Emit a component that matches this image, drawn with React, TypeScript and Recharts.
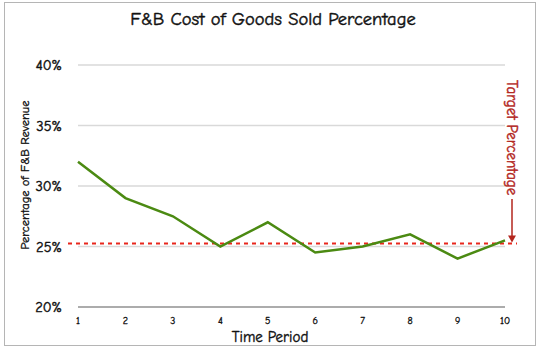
import { LineChart, Line, XAxis, YAxis, CartesianGrid, ReferenceLine, Label } from 'recharts';

const periods = [1, 2, 3, 4, 5, 6, 7, 8, 9, 10];
const cogsPct = [32, 29, 27.5, 25, 27, 24.5, 25, 26, 24, 25.5];
const yTicks = [20, 25, 30, 35, 40];
const TARGET = 25.25;

const FONT = '"Comic Sans MS", "Comic Neue", "DejaVu Sans", sans-serif';
const INK = '#111';

const data = periods.map((p, i) => ({ period: p, value: cogsPct[i] }));

interface LineShapeProps {
  x1?: number;
  x2?: number;
  y1?: number;
  y2?: number;
  viewBox?: { x: number; y: number; width: number; height: number };
}

function TargetLine(props: LineShapeProps) {
  const { x1 = 0, x2 = 0, y1 = 0, viewBox } = props;
  const top = viewBox ? viewBox.y : 65;
  const tx = x2 + 7;
  return (
    <g>
      <line
        x1={x1 - 10}
        x2={x2 + 12}
        y1={y1}
        y2={y1}
        stroke="#e8261c"
        strokeWidth={2}
        strokeDasharray="4 4"
      />
      <text
        x={tx}
        y={top + 15}
        transform={`rotate(90 ${tx} ${top + 15})`}
        fill="#b3261e"
        stroke="#b3261e"
        strokeWidth={0.45}
        fontSize={15}
        fontFamily={FONT}
        dominantBaseline="central"
      >
        Target Percentage
      </text>
      <line x1={tx} x2={tx} y1={top + 134} y2={y1 - 6} stroke="#b3261e" strokeWidth={1.5} />
      <path d={`M${tx - 4},${y1 - 8} L${tx + 4},${y1 - 8} L${tx},${y1 - 1} Z`} fill="#b3261e" />
    </g>
  );
}

function XTitle() {
  return (
    <text
      x={270}
      y={337}
      textAnchor="middle"
      dominantBaseline="central"
      fontSize={15}
      fill={INK}
      stroke={INK}
      strokeWidth={0.4}
      fontFamily={FONT}
    >
      Time Period
    </text>
  );
}

function YTitle() {
  return (
    <text
      x={25}
      y={175}
      transform="rotate(-90 25 175)"
      textAnchor="middle"
      dominantBaseline="central"
      fontSize={12.5}
      fill={INK}
      stroke={INK}
      strokeWidth={0.35}
      fontFamily={FONT}
    >
      Percentage of F&amp;B Revenue
    </text>
  );
}

export default function App() {
  return (
    <div style={{ position: 'absolute', left: 0, top: 0, width: 540, height: 350, background: '#fff' }}>
      <div
        style={{
          position: 'absolute',
          left: 4,
          top: 2,
          width: 530,
          height: 342,
          border: '1px solid #b5b5b5',
        }}
      />
      <div
        style={{
          position: 'absolute',
          left: 0,
          top: 8,
          width: 546,
          textAlign: 'center',
          fontFamily: FONT,
          fontSize: 18.5,
          color: INK,
          WebkitTextStroke: '0.45px #111',
        }}
      >
        F&amp;B Cost of Goods Sold Percentage
      </div>
      <div style={{ position: 'absolute', left: 0, top: 0 }}>
        <LineChart width={540} height={350} data={data} margin={{ top: 65, right: 35, bottom: 13, left: 18 }}>
          <CartesianGrid vertical={false} stroke="#d9d9d9" strokeWidth={1.5} />
          <XAxis
            dataKey="period"
            tickLine={false}
            axisLine={{ stroke: '#9a9a9a', strokeWidth: 1.5 }}
            tick={{ fontSize: 10, fill: INK, stroke: INK, strokeWidth: 0.35, fontFamily: FONT }}
            height={30}
            tickMargin={4}
          >
            <Label content={<XTitle />} />
          </XAxis>
          <YAxis
            domain={[20, 40]}
            ticks={yTicks}
            tickFormatter={(v: number) => `${v}%`}
            axisLine={false}
            tickLine={false}
            width={60}
            tickMargin={10}
            tick={{ fontSize: 14.5, fill: INK, stroke: INK, strokeWidth: 0.45, fontFamily: FONT }}
          >
            <Label content={<YTitle />} />
          </YAxis>
          <ReferenceLine y={TARGET} shape={<TargetLine />} ifOverflow="visible" />
          <Line
            type="linear"
            dataKey="value"
            stroke="#4b8a12"
            strokeWidth={2.5}
            dot={false}
            isAnimationActive={false}
          />
        </LineChart>
      </div>
    </div>
  );
}
